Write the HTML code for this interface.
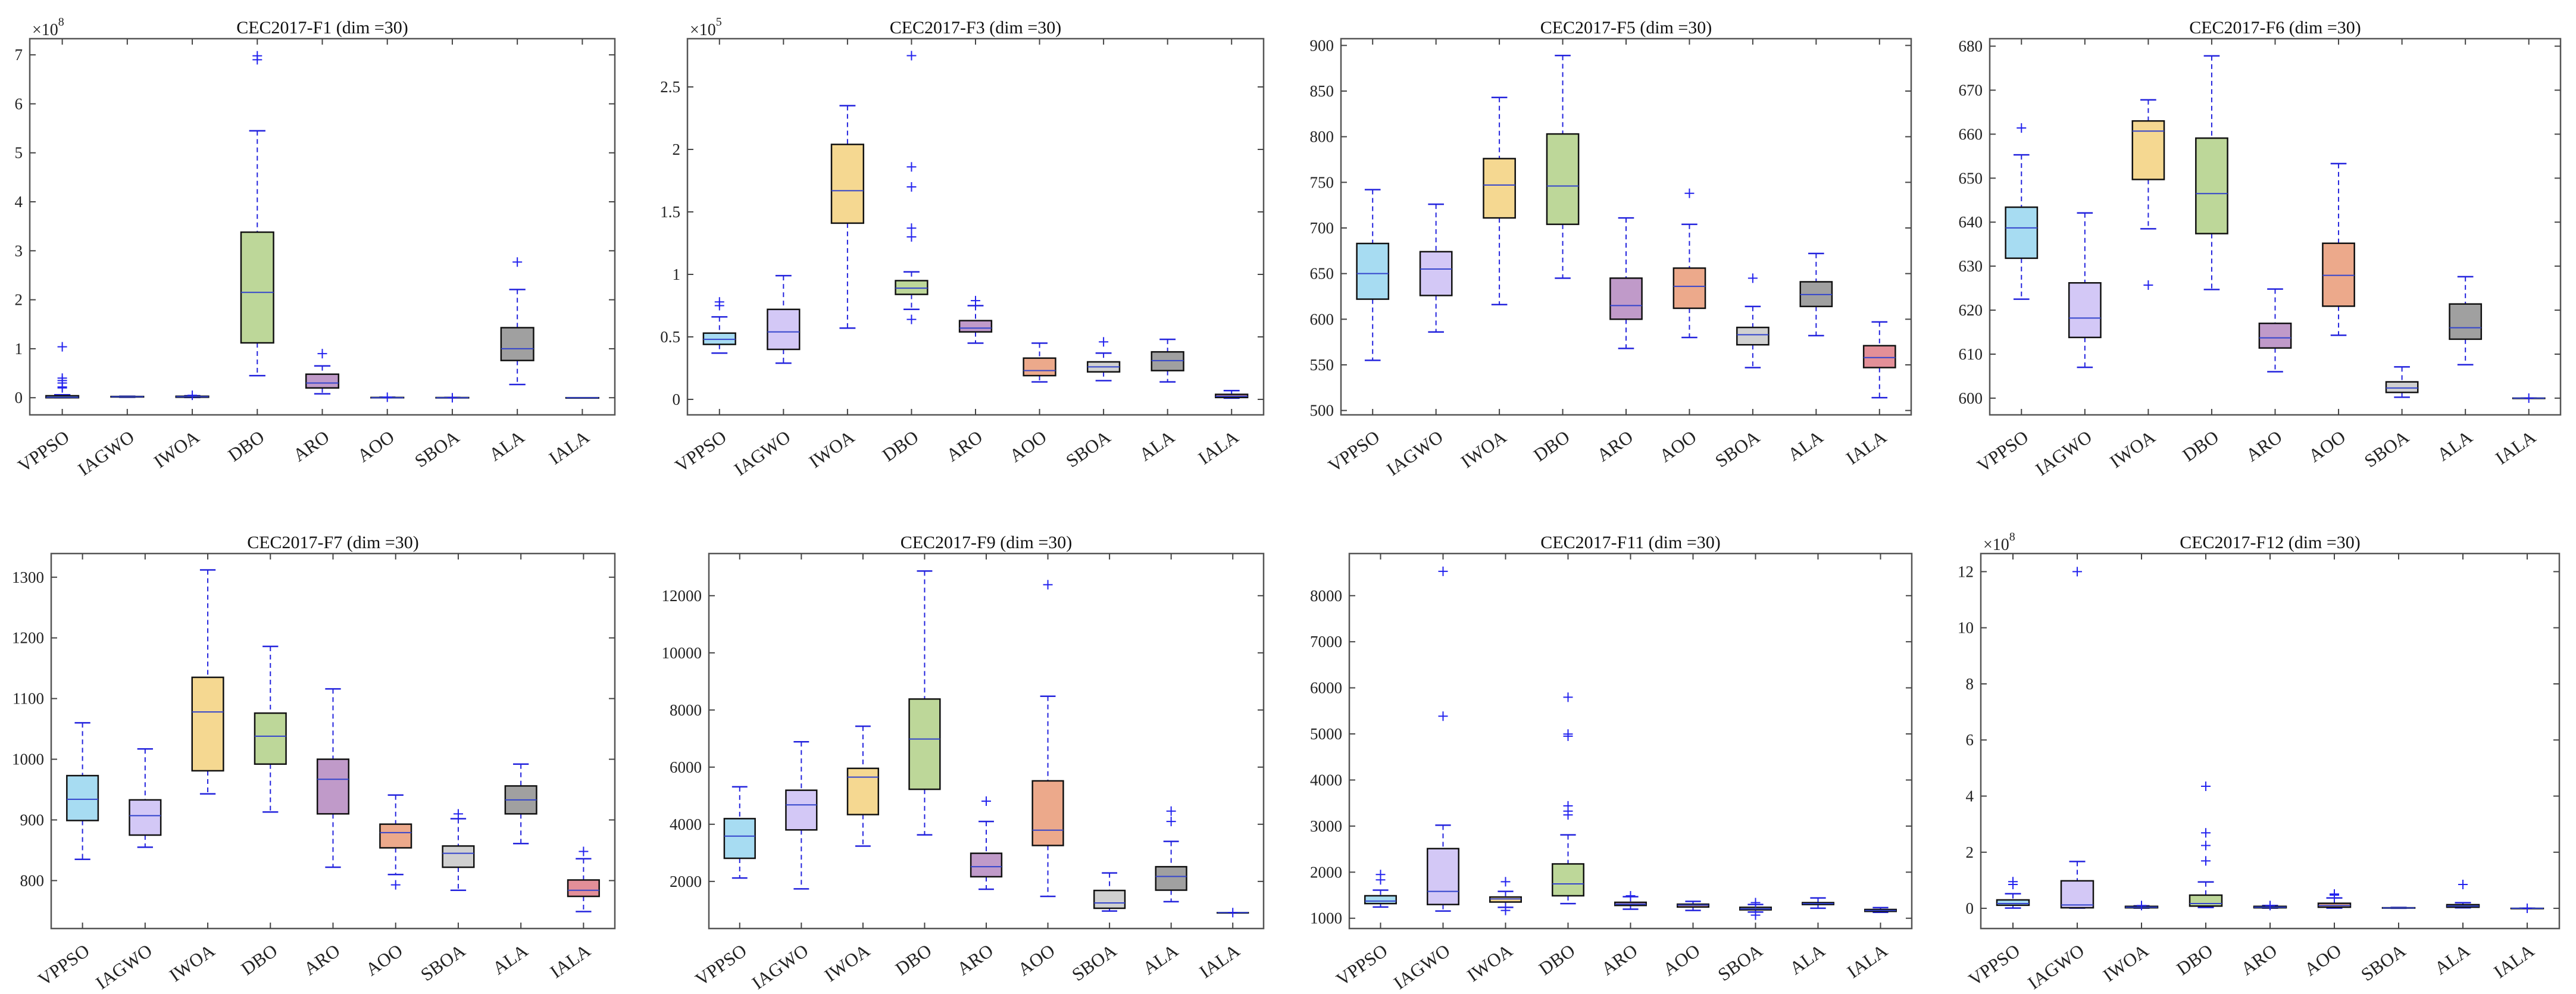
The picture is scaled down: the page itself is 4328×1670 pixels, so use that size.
<!DOCTYPE html>
<html><head><meta charset="utf-8">
<style>
html,body{margin:0;padding:0;background:#fff;}
svg{display:block;font-family:"Liberation Serif","Times New Roman",serif;}
</style></head>
<body>
<svg id="fig" xmlns="http://www.w3.org/2000/svg" width="4328" height="1670" viewBox="0 0 4328 1670"></svg>
<script>
// ---------- data ----------
const categories = ["VPPSO","IAGWO","IWOA","DBO","ARO","AOO","SBOA","ALA","IALA"];
const boxColors = ["#a7dcf2","#d3c8f6","#f5d891","#bdd799","#c09ac9","#eca98b","#d0d0d0","#a0a0a0","#e38f98"];

// F1 (x1e8)
const f1Lo  = [0,0.01,0.005,0.45,0.08,0,0,0.27,0];
const f1Q1  = [0,0.015,0.01,1.12,0.20,0,0,0.76,0];
const f1Med = [0.01,0.02,0.02,2.15,0.30,0,0,1.00,0];
const f1Q3  = [0.04,0.025,0.03,3.38,0.48,0.005,0.003,1.43,0];
const f1Hi  = [0.06,0.03,0.04,5.45,0.65,0.01,0.005,2.21,0];
const f1Out = [[0.2,0.22,0.3,0.35,0.4,1.04],[],[0.05],[6.9,6.98],[0.9],[0.01],[0],[2.77],[]];
const f1Ticks = [0,1,2,3,4,5,6,7];
const f1TickLabels = ["0","1","2","3","4","5","6","7"];

// F3 (x1e5)
const f3Lo  = [0.37,0.29,0.57,0.72,0.45,0.14,0.15,0.14,0.01];
const f3Q1  = [0.44,0.40,1.41,0.84,0.54,0.19,0.22,0.23,0.015];
const f3Med = [0.48,0.54,1.67,0.89,0.57,0.23,0.26,0.31,0.025];
const f3Q3  = [0.53,0.72,2.04,0.95,0.63,0.33,0.30,0.38,0.04];
const f3Hi  = [0.66,0.99,2.35,1.02,0.75,0.45,0.37,0.48,0.07];
const f3Out = [[0.75,0.78],[],[],[0.64,1.30,1.37,1.70,1.86,2.75],[0.79],[],[0.46],[],[]];
const f3Ticks = [0,0.5,1,1.5,2,2.5];
const f3TickLabels = ["0","0.5","1","1.5","2","2.5"];

// F5
const f5Lo  = [555,586,616,645,568,580,547,582,514];
const f5Q1  = [622,626,711,704,600,612,572,614,547];
const f5Med = [650,655,747,746,615,636,583,627,558];
const f5Q3  = [683,674,776,803,645,656,591,641,571];
const f5Hi  = [742,726,843,889,711,704,614,672,597];
const f5Out = [[],[],[],[],[],[738],[645],[],[]];
const f5Ticks = [500,550,600,650,700,750,800,850,900];
const f5TickLabels = ["500","550","600","650","700","750","800","850","900"];

// F6
const f6Lo  = [622.5,607.0,638.5,624.7,606.0,614.3,600.2,607.6,600];
const f6Q1  = [631.8,613.8,649.7,637.4,611.4,620.9,601.3,613.4,600];
const f6Med = [638.7,618.2,660.7,646.5,613.7,627.9,602.3,616.0,600];
const f6Q3  = [643.4,626.2,663.0,659.1,617.0,635.2,603.7,621.4,600];
const f6Hi  = [655.3,642.1,667.8,677.8,624.8,653.3,607.1,627.6,600];
const f6Out = [[661.4],[],[625.7],[],[],[],[],[],[600]];
const f6Ticks = [600,610,620,630,640,650,660,670,680];
const f6TickLabels = ["600","610","620","630","640","650","660","670","680"];

// F7
const f7Lo  = [835,855,943,913,822,810,784,861,749];
const f7Q1  = [899,875,981,992,910,854,822,910,774];
const f7Med = [934,907,1078,1038,967,879,845,933,784];
const f7Q3  = [973,933,1135,1076,1000,893,857,956,801];
const f7Hi  = [1060,1017,1312,1186,1116,941,902,992,836];
const f7Out = [[],[],[],[],[],[793],[910],[],[848]];
const f7Ticks = [800,900,1000,1100,1200,1300];
const f7TickLabels = ["800","900","1000","1100","1200","1300"];

// F9
const f9Lo  = [2120,1738,3235,3629,1727,1475,962,1290,907];
const f9Q1  = [2809,3803,4339,5224,2164,3257,1060,1694,907];
const f9Med = [3585,4678,5651,6984,2514,3793,1246,2175,907];
const f9Q3  = [4197,5191,5957,8383,2984,5519,1683,2514,907];
const f9Hi  = [5312,6886,7432,12864,4099,8481,2295,3399,907];
const f9Out = [[],[],[],[],[4809],[12384],[],[4099,4460],[907]];
const f9Ticks = [2000,4000,6000,8000,10000,12000];
const f9TickLabels = ["2000","4000","6000","8000","10000","12000"];

// F11
const f11Lo  = [1244,1156,1237,1318,1197,1170,1136,1217,1129];
const f11Q1  = [1318,1298,1352,1488,1278,1244,1183,1298,1149];
const f11Med = [1373,1583,1420,1745,1305,1285,1203,1318,1169];
const f11Q3  = [1488,2511,1461,2179,1346,1305,1237,1339,1190];
const f11Hi  = [1610,3019,1583,2809,1468,1366,1298,1440,1230];
const f11Out = [[1833,1949],[5384,8528],[1793,1170],[3243,3324,3439,4950,4998,5797],[1488],[],[1339,1068],[],[]];
const f11Ticks = [1000,2000,3000,4000,5000,6000,7000,8000];
const f11TickLabels = ["1000","2000","3000","4000","5000","6000","7000","8000"];

// F12 (x1e8)
const f12Lo  = [0.01,0.01,0.01,0.03,0.01,0.01,0.005,0.02,0];
const f12Q1  = [0.11,0.02,0.02,0.08,0.02,0.04,0.01,0.04,0];
const f12Med = [0.17,0.12,0.04,0.17,0.04,0.10,0.015,0.08,0];
const f12Q3  = [0.30,0.98,0.07,0.47,0.07,0.18,0.02,0.13,0];
const f12Hi  = [0.52,1.67,0.09,0.94,0.10,0.37,0.03,0.20,0];
const f12Out = [[0.85,0.95],[12.0],[0.1],[1.69,2.24,2.69,4.35],[0.1],[0.47,0.51],[],[0.85],[0]];
const f12Ticks = [0,2,4,6,8,10,12];
const f12TickLabels = ["0","2","4","6","8","10","12"];

// ---------- layout ----------
const panels = [
 {id:"f1", title:"CEC2017-F1 (dim =30)", exp:"8", L:50,R:1033,T:65,B:697, ymin:-0.35,ymax:7.33, lo:f1Lo,q1:f1Q1,med:f1Med,q3:f1Q3,hi:f1Hi,out:f1Out,ticks:f1Ticks,tl:f1TickLabels},
 {id:"f3", title:"CEC2017-F3 (dim =30)", exp:"5", L:1155,R:2123,T:65,B:697, ymin:-0.124,ymax:2.886, lo:f3Lo,q1:f3Q1,med:f3Med,q3:f3Q3,hi:f3Hi,out:f3Out,ticks:f3Ticks,tl:f3TickLabels},
 {id:"f5", title:"CEC2017-F5 (dim =30)", exp:null, L:2253,R:3211,T:65,B:697, ymin:495.2,ymax:907.4, lo:f5Lo,q1:f5Q1,med:f5Med,q3:f5Q3,hi:f5Hi,out:f5Out,ticks:f5Ticks,tl:f5TickLabels},
 {id:"f6", title:"CEC2017-F6 (dim =30)", exp:null, L:3343,R:4302,T:65,B:697, ymin:596.2,ymax:681.7, lo:f6Lo,q1:f6Q1,med:f6Med,q3:f6Q3,hi:f6Hi,out:f6Out,ticks:f6Ticks,tl:f6TickLabels},
 {id:"f7", title:"CEC2017-F7 (dim =30)", exp:null, L:86,R:1033,T:930,B:1560, ymin:721,ymax:1339, lo:f7Lo,q1:f7Q1,med:f7Med,q3:f7Q3,hi:f7Hi,out:f7Out,ticks:f7Ticks,tl:f7TickLabels},
 {id:"f9", title:"CEC2017-F9 (dim =30)", exp:null, L:1191,R:2123,T:930,B:1560, ymin:351,ymax:13475, lo:f9Lo,q1:f9Q1,med:f9Med,q3:f9Q3,hi:f9Hi,out:f9Out,ticks:f9Ticks,tl:f9TickLabels},
 {id:"f11", title:"CEC2017-F11 (dim =30)", exp:null, L:2267,R:3212,T:930,B:1560, ymin:777,ymax:8914, lo:f11Lo,q1:f11Q1,med:f11Med,q3:f11Q3,hi:f11Hi,out:f11Out,ticks:f11Ticks,tl:f11TickLabels},
 {id:"f12", title:"CEC2017-F12 (dim =30)", exp:"8", L:3328,R:4300,T:930,B:1560, ymin:-0.72,ymax:12.645, lo:f12Lo,q1:f12Q1,med:f12Med,q3:f12Q3,hi:f12Hi,out:f12Out,ticks:f12Ticks,tl:f12TickLabels}
];

const NS="http://www.w3.org/2000/svg";
const svg=document.getElementById('fig');
function mk(tag,attrs,parent){const e=document.createElementNS(NS,tag);for(const k in attrs)e.setAttribute(k,attrs[k]);(parent||svg).appendChild(e);return e;}

panels.forEach(p=>{
  const g=mk('g',{});
  
  
  const W=p.R-p.L, n=categories.length, step=W/n;
  const xS=i=>p.L+step*(i+0.5);
  const yS=v=>p.B-(v-p.ymin)/(p.ymax-p.ymin)*(p.B-p.T);
  const frame=mk('rect',{x:p.L,y:p.T,width:W,height:p.B-p.T,fill:'none',stroke:'#555',"stroke-width":2.5},g);
  
  
  p.ticks.forEach((t,k)=>{
    const y=yS(t);
    mk('line',{x1:p.L,x2:p.L+10,y1:y,y2:y,stroke:'#444',"stroke-width":2},g);
    mk('line',{x1:p.R-10,x2:p.R,y1:y,y2:y,stroke:'#444',"stroke-width":2},g);
    const tx=mk('text',{x:p.L-12,y:y+9,"text-anchor":"end","font-size":27,fill:"#222"},g);
    tx.textContent=p.tl[k];
    
    
  });
  categories.forEach((c,i)=>{
    const x=xS(i);
    mk('line',{x1:x,x2:x,y1:p.B,y2:p.B-10,stroke:'#444',"stroke-width":2},g);
    mk('line',{x1:x,x2:x,y1:p.T,y2:p.T+10,stroke:'#444',"stroke-width":2},g);
    const tx=mk('text',{transform:`translate(${x+14},${p.B+42}) rotate(-35)`,"text-anchor":"end","font-size":31,fill:"#222"},g);
    tx.textContent=c;
    
    
  });
  const bw=step*0.5, cw=step*0.25;
  categories.forEach((c,i)=>{
    const x=xS(i);
    const bg=mk('g',{},g);
    
    
    const yLo=yS(p.lo[i]),yHi=yS(p.hi[i]),yQ1=yS(p.q1[i]),yQ3=yS(p.q3[i]),yM=yS(p.med[i]);
    mk('line',{x1:x,x2:x,y1:yHi,y2:yQ3,stroke:'#2222dd',"stroke-width":2,"stroke-dasharray":"8 6"},bg);
    mk('line',{x1:x,x2:x,y1:yQ1,y2:yLo,stroke:'#2222dd',"stroke-width":2,"stroke-dasharray":"8 6"},bg);
    mk('line',{x1:x-cw/2,x2:x+cw/2,y1:yHi,y2:yHi,stroke:'#2222dd',"stroke-width":2.5},bg);
    mk('line',{x1:x-cw/2,x2:x+cw/2,y1:yLo,y2:yLo,stroke:'#2222dd',"stroke-width":2.5},bg);
    mk('rect',{x:x-bw/2,y:yQ3,width:bw,height:Math.max(yQ1-yQ3,0.5),fill:boxColors[i],stroke:'#111',"stroke-width":2.5},bg);
    mk('line',{x1:x-bw/2,x2:x+bw/2,y1:yM,y2:yM,stroke:'#3344cc',"stroke-width":2},bg);
    p.out[i].forEach(v=>{
      const y=yS(v);
      mk('path',{d:`M${x-8},${y}H${x+8}M${x},${y-8}V${y+8}`,stroke:'#2222ee',"stroke-width":2,fill:'none'},bg);
    });
  });
  const tt=mk('text',{x:(p.L+p.R)/2,y:p.T-9,"text-anchor":"middle","font-size":30,fill:"#111"},g);
  tt.textContent=p.title;
  
  
  if(p.exp){
    const ex=mk('text',{x:p.L+4,y:p.T-6,"font-size":28,fill:"#222"},g);
    ex.textContent='×10';
    const sup=mk('tspan',{dy:-16,"font-size":20},ex);
    sup.textContent=p.exp;
    
    
  }
});
</script>
</body></html>
